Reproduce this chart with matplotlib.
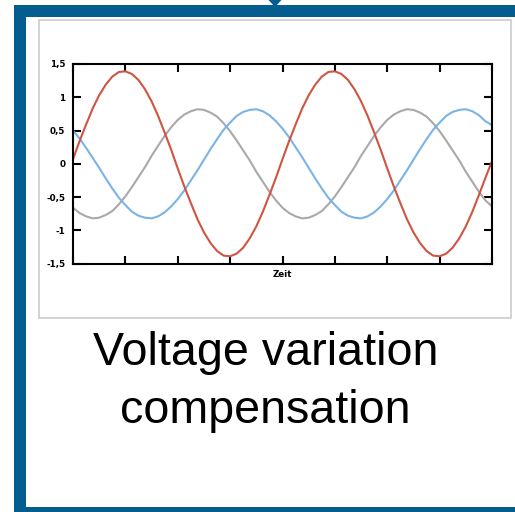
import numpy as np
import matplotlib
matplotlib.use("Agg")
import matplotlib.pyplot as plt
from matplotlib.patches import Rectangle, Polygon

# ---------------- data ----------------
time = np.linspace(0, 8, 65)

red_values = [0.07, 0.34, 0.59, 0.83, 1.03, 1.19, 1.31, 1.38, 1.39, 1.35, 1.26, 1.12, 0.94, 0.72, 0.47, 0.21,
              -0.07, -0.34, -0.59, -0.83, -1.03, -1.19, -1.31, -1.38, -1.39, -1.35, -1.26, -1.12, -0.94, -0.72, -0.47, -0.21,
              0.07, 0.34, 0.59, 0.83, 1.03, 1.19, 1.31, 1.38, 1.39, 1.35, 1.26, 1.12, 0.94, 0.72, 0.47, 0.21,
              -0.07, -0.34, -0.59, -0.83, -1.03, -1.19, -1.31, -1.38, -1.39, -1.35, -1.26, -1.12, -0.94, -0.72, -0.47, -0.21,
              0.04]

gray_values = [-0.66, -0.74, -0.79, -0.82, -0.81, -0.77, -0.71, -0.61, -0.49, -0.35, -0.20, -0.05, 0.12, 0.27, 0.42, 0.55,
               0.66, 0.74, 0.79, 0.82, 0.81, 0.77, 0.71, 0.61, 0.49, 0.35, 0.20, 0.05, -0.12, -0.27, -0.42, -0.55,
               -0.66, -0.74, -0.79, -0.82, -0.81, -0.77, -0.71, -0.61, -0.49, -0.35, -0.20, -0.05, 0.12, 0.27, 0.42, 0.55,
               0.66, 0.74, 0.79, 0.82, 0.81, 0.77, 0.71, 0.61, 0.49, 0.35, 0.20, 0.05, -0.12, -0.27, -0.42, -0.55,
               -0.64]

blue_values = [0.50, 0.38, 0.24, 0.09, -0.06, -0.22, -0.37, -0.51, -0.62, -0.72, -0.78, -0.81, -0.82, -0.79, -0.73, -0.64,
               -0.53, -0.40, -0.25, -0.10, 0.06, 0.22, 0.37, 0.51, 0.62, 0.72, 0.78, 0.81, 0.82, 0.79, 0.73, 0.64,
               0.53, 0.40, 0.25, 0.10, -0.06, -0.22, -0.37, -0.51, -0.62, -0.72, -0.78, -0.81, -0.82, -0.79, -0.73, -0.64,
               -0.53, -0.40, -0.25, -0.10, 0.06, 0.22, 0.37, 0.51, 0.62, 0.72, 0.78, 0.81, 0.82, 0.79, 0.73, 0.64,
               0.58]

y_ticks = [-1.5, -1.0, -0.5, 0.0, 0.5, 1.0, 1.5]
y_tick_labels = ["-1,5", "-1", "-0,5", "0", "0,5", "1", "1,5"]
x_ticks = [0, 1, 2, 3, 4, 5, 6, 7, 8]
x_label = "Zeit"
title_lines = ["Voltage variation", "compensation"]

# ---------------- figure ----------------
W, H = 515, 512
fig = plt.figure(figsize=(W / 100, H / 100), dpi=100)
fig.patch.set_facecolor("white")

# background / decoration layer in pixel coordinates
bg = fig.add_axes([0, 0, 1, 1], zorder=0)
bg.set_xlim(0, W)
bg.set_ylim(H, 0)
bg.axis("off")

frame_blue = "#035e8f"
bg.add_patch(Rectangle((14, 5), W, 12, facecolor=frame_blue, edgecolor="none"))
bg.add_patch(Rectangle((14, 5), 12, H, facecolor=frame_blue, edgecolor="none"))
bg.add_patch(Rectangle((14, 507), W, 10, facecolor=frame_blue, edgecolor="none"))
bg.add_patch(Polygon([[268.5, 0], [281.5, 0], [275, 7]], closed=True,
                     facecolor=frame_blue, edgecolor="none"))
bg.add_patch(Rectangle((38.5, 19.5), 472, 298.5, facecolor="white",
                       edgecolor="#cccccc", linewidth=1.2))

bg.text(266, 365, title_lines[0], ha="center", va="baseline",
        fontsize=33.6, family="Liberation Sans", color="black")
bg.text(265, 423, title_lines[1], ha="center", va="baseline",
        fontsize=33.6, family="Liberation Sans", color="black")

# main chart axes
left, right, top, bottom = 73, 492, 64, 263.6
ax = fig.add_axes([left / W, 1 - bottom / H, (right - left) / W, (bottom - top) / H], zorder=1)
ax.set_facecolor("none")

ax.plot(time, gray_values, color="#a9a9a9", linewidth=1.5, solid_capstyle="round")
ax.plot(time, blue_values, color="#7ab4e6", linewidth=1.5, solid_capstyle="round")
ax.plot(time, red_values, color="#cf5542", linewidth=1.5, solid_capstyle="round")

ax.set_xlim(0, 8)
ax.set_ylim(-1.5, 1.5)
ax.set_xticks(x_ticks)
ax.set_xticklabels([])
ax.set_yticks(y_ticks)
ax.set_yticklabels(y_tick_labels, fontsize=6.3, fontweight="bold", family="DejaVu Sans")

for s in ax.spines.values():
    s.set_linewidth(1.5)
    s.set_color("black")

ax.tick_params(axis="both", direction="in", length=5.8, width=1.5, color="black",
               top=True, right=True, labelbottom=False)
ax.tick_params(axis="y", pad=5.5)

ax.set_xlabel(x_label, fontsize=6.3, fontweight="bold", family="DejaVu Sans", labelpad=4.5)

fig.savefig("out.png", dpi=100)
